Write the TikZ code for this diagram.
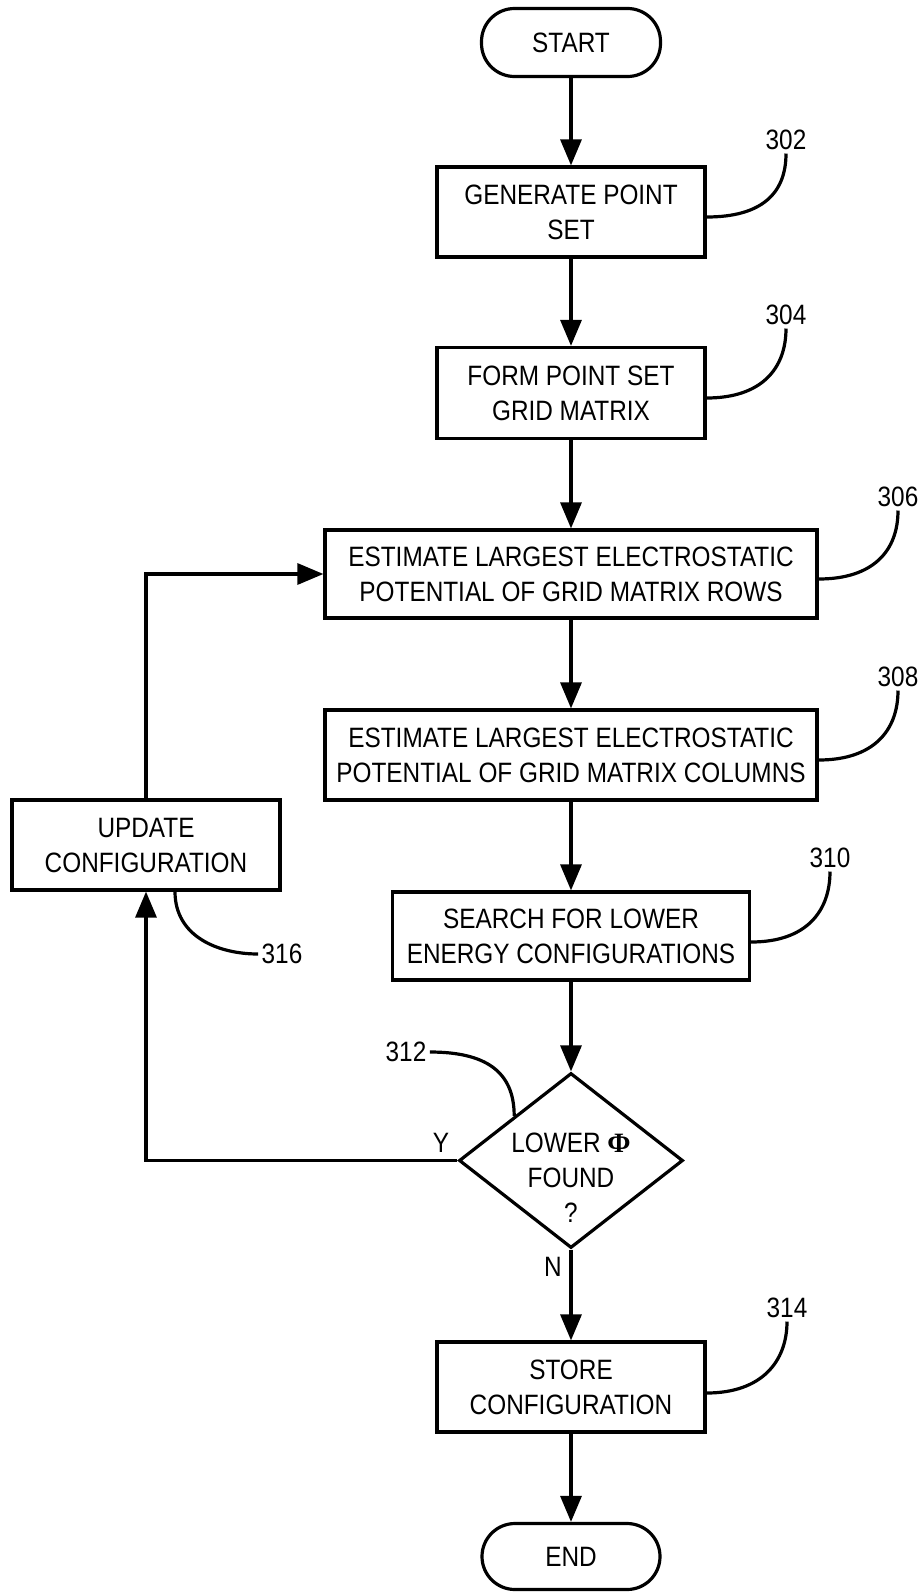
\documentclass[tikz,border=0pt]{standalone}
\usepackage{fontspec}
\setmainfont{Liberation Sans}[FakeStretch=0.87]
\newfontfamily\phifont{Liberation Serif}
\usetikzlibrary{arrows.meta,shapes.geometric}
\newcommand\chartfont{\fontsize{28}{35}\selectfont}
\tikzset{
  procbox/.style={draw, rectangle, inner sep=0pt, align=center, font=\chartfont},
  term/.style={draw, rectangle, rounded corners=33pt, inner sep=0pt, font=\chartfont},
  decision/.style={draw, diamond, inner sep=0pt},
  reflabel/.style={inner sep=2pt, font=\chartfont},
  flow/.style={-{Triangle[length=26pt,width=21pt]}},
}
\begin{document}
\begin{tikzpicture}[x=1pt,y=-1pt,line width=3.2pt]
\fill[white] (0,0) rectangle (923,1593);
\useasboundingbox (0,0) rectangle (923,1593);

% main column
\node[term, minimum width=179pt, minimum height=68pt] (start) at (571,42.5) {START};
\node[procbox, minimum width=268pt, minimum height=90pt] (b302) at (571,212) {GENERATE POINT\\SET};
\node[procbox, minimum width=268pt, minimum height=91pt] (b304) at (571,393) {FORM POINT SET\\GRID MATRIX};
\node[procbox, minimum width=492pt, minimum height=88pt] (b306) at (571,574) {ESTIMATE LARGEST ELECTROSTATIC\\POTENTIAL OF GRID MATRIX ROWS};
\node[procbox, minimum width=492pt, minimum height=90pt] (b308) at (571,755) {ESTIMATE LARGEST ELECTROSTATIC\\POTENTIAL OF GRID MATRIX COLUMNS};
\node[procbox, minimum width=357pt, minimum height=88pt] (b310) at (571,936) {SEARCH FOR LOWER\\ENERGY CONFIGURATIONS};
\node[decision, minimum width=224pt, minimum height=175pt] (dia) at (571,1160.5) {};
\node[align=center, font=\chartfont, inner sep=0pt] (diatext) at (571,1178) {LOWER {\phifont\bfseries Φ}\\FOUND\\?};
\node[procbox, minimum width=268pt, minimum height=90pt] (b314) at (571,1387) {STORE\\CONFIGURATION};
\node[term, minimum width=178pt, minimum height=66pt] (end) at (571,1556.5) {END};

% loop-back box
\node[procbox, minimum width=268pt, minimum height=90pt] (b316) at (146,845) {UPDATE\\CONFIGURATION};

% flow connectors
\draw[flow] (start.south) -- (b302.north);
\draw[flow] (b302.south) -- (b304.north);
\draw[flow] (b304.south) -- (b306.north);
\draw[flow] (b306.south) -- (b308.north);
\draw[flow] (b308.south) -- (b310.north);
\draw[flow] (b310.south) -- (dia.north);
\draw[flow] (dia.south) -- (b314.north);
\draw[flow] (b314.south) -- (end.north);
\draw[flow] (dia.west) -| (b316.south);
\draw[flow] (b316.north) |- (b306.west);

% branch labels
\node[font=\chartfont, inner sep=0pt] (ylab) at (441,1143) {Y};
\node[font=\chartfont, inner sep=0pt] (nlab) at (553,1267) {N};

% reference numerals and leaders
\node[reflabel] (l302) at (786,140) {302};
\node[reflabel] (l304) at (786,315) {304};
\node[reflabel] (l306) at (898,497) {306};
\node[reflabel] (l308) at (898,677) {308};
\node[reflabel] (l310) at (830,858) {310};
\node[reflabel] (l312) at (406,1052) {312};
\node[reflabel] (l314) at (787,1308) {314};
\node[reflabel] (l316) at (282,954) {316};

\draw ([yshift=-5pt]b302.east) .. controls +(55,0) and +(0,40) .. (l302.south);
\draw ([yshift=-5pt]b304.east) .. controls +(55,0) and +(0,40) .. (l304.south);
\draw ([yshift=-5pt]b306.east) .. controls +(55,0) and +(0,40) .. (l306.south);
\draw ([yshift=-5pt]b308.east) .. controls +(55,0) and +(0,40) .. (l308.south);
\draw ([yshift=-6pt]b310.east) .. controls +(55,0) and +(0,40) .. (l310.south);
\draw ([yshift=-6pt]b314.east) .. controls +(55,0) and +(0,40) .. (l314.south);
\draw ([xshift=29pt]b316.south) .. controls +(0,45) and +(-40,0) .. (l316.west);
\draw (l312.east) .. controls +(55,0) and +(0,-45) .. (dia.north west);
\end{tikzpicture}
\end{document}
